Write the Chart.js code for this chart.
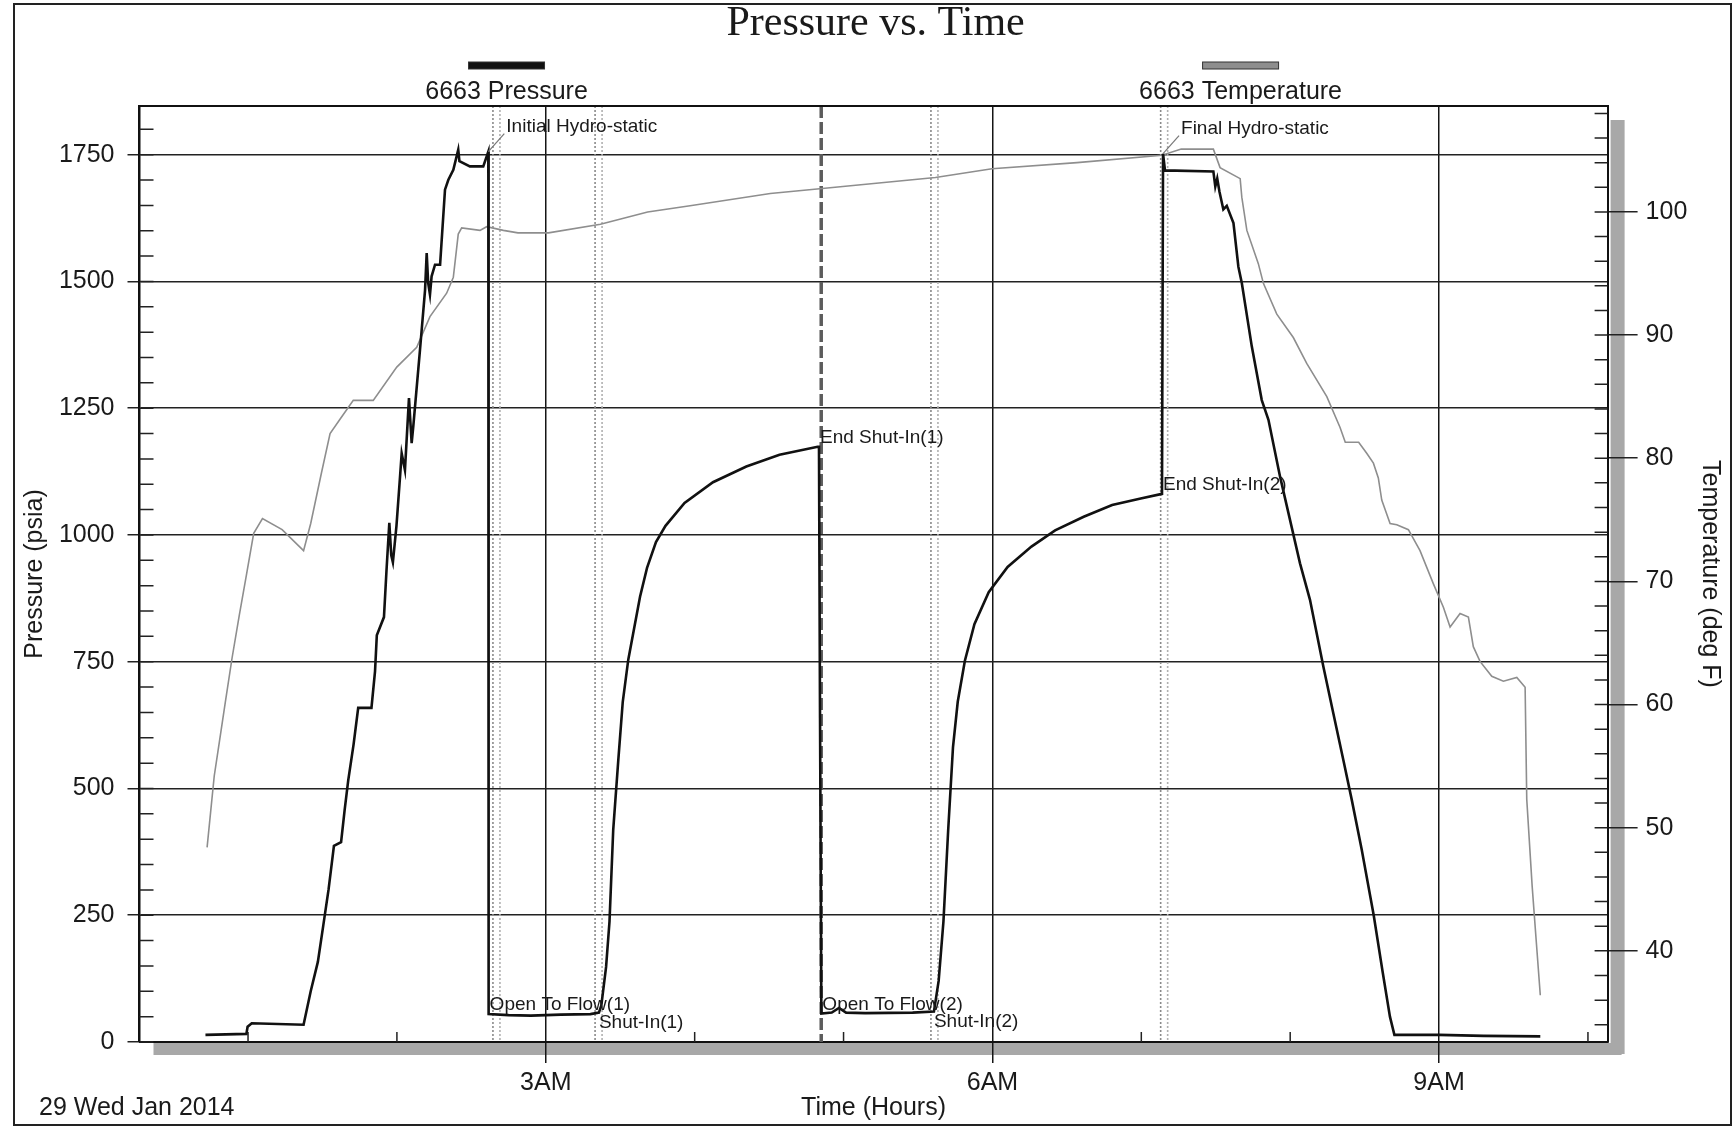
<!DOCTYPE html>
<html>
<head>
<meta charset="utf-8">
<title>Pressure vs. Time</title>
<script src="https://cdn.jsdelivr.net/npm/chart.js@4.4.1/dist/chart.umd.min.js"></script>
<style>
  html, body { margin: 0; padding: 0; background: #fff; }
  canvas { display: block; }
</style>
</head>
<body>
<canvas id="c" width="1736" height="1131"></canvas>
<script>
/* ---------- values ---------- */
// time in hours after midnight, pressure in psia
const pTime = [0.714, 0.989, 0.997, 1.025, 1.373, 1.421, 1.469, 1.505, 1.541, 1.577,
  1.625, 1.649, 1.673, 1.709, 1.740, 1.829, 1.853, 1.865, 1.913, 1.930,
  1.949, 1.962, 1.973, 1.997, 2.021, 2.032, 2.054, 2.081, 2.099, 2.110,
  2.155, 2.189, 2.200, 2.210, 2.222, 2.233, 2.256, 2.290, 2.323, 2.345,
  2.379, 2.412, 2.420, 2.490, 2.580, 2.614,
  2.616, 2.750, 2.900, 3.100, 3.300, 3.357,
  3.373, 3.405, 3.428, 3.453, 3.487, 3.517, 3.554, 3.633, 3.680, 3.740,
  3.804, 3.932, 4.123, 4.347, 4.570, 4.826, 4.835,
  4.842, 4.851, 4.921, 4.969, 5.017, 5.145, 5.464, 5.607,
  5.639, 5.671, 5.703, 5.735, 5.767, 5.815, 5.879, 5.975, 6.102, 6.262,
  6.421, 6.613, 6.804, 6.996, 7.139,
  7.146, 7.159, 7.484, 7.497, 7.510, 7.525, 7.551, 7.574, 7.619, 7.652,
  7.675, 7.742, 7.809, 7.854, 7.932, 8.066, 8.133, 8.223, 8.290, 8.357,
  8.414, 8.480, 8.561, 8.620, 8.670, 8.700, 9.000, 9.300, 9.680];
const pPsi = [14, 16, 30, 37, 34, 100, 158, 229, 301, 387,
  394, 458, 516, 587, 659, 659, 731, 802, 838, 930,
  1024, 960, 946, 1018, 1115, 1161, 1128, 1270, 1181, 1214,
  1365, 1483, 1556, 1497, 1474, 1510, 1533, 1533, 1681, 1700,
  1720, 1760, 1737, 1727, 1727, 1756,
  55, 53, 52, 54, 55, 58,
  72, 148, 238, 419, 556, 671, 754, 878, 935, 986,
  1018, 1063, 1104, 1135, 1158, 1174, 1174,
  640, 56, 58, 67, 58, 57, 58, 60,
  121, 238, 419, 581, 671, 752, 824, 887, 937, 977,
  1009, 1036, 1059, 1072, 1081,
  1752, 1719, 1717, 1687, 1703, 1677, 1642, 1649, 1615, 1529,
  1497, 1372, 1266, 1227, 1115, 944, 872, 740, 648, 556,
  477, 380, 250, 140, 50, 14, 14, 12, 11];

// temperature in deg F
const tTime = [0.725, 0.749, 0.773, 0.809, 0.845, 0.893, 0.942, 0.989, 1.038, 1.097,
  1.229, 1.373, 1.421, 1.493, 1.551, 1.620, 1.707, 1.841, 1.999, 2.133,
  2.222, 2.334, 2.379, 2.412, 2.435, 2.558, 2.603, 2.715, 2.813, 3.018,
  3.367, 3.684, 3.969, 4.508, 4.857, 5.617, 5.997, 6.568, 7.139, 7.268,
  7.484, 7.529, 7.664, 7.675, 7.709, 7.786, 7.820, 7.910, 8.021, 8.111,
  8.246, 8.335, 8.370, 8.460, 8.514, 8.559, 8.592, 8.615, 8.671, 8.716,
  8.794, 8.872, 8.962, 9.029, 9.074, 9.141, 9.197, 9.230, 9.275, 9.354,
  9.432, 9.522, 9.578, 9.589, 9.625, 9.652, 9.680];
const tDegF = [48.4, 51.3, 54.2, 57.1, 60.0, 63.8, 67.3, 70.5, 73.9, 75.1,
  74.2, 72.5, 74.7, 78.8, 82.0, 83.2, 84.7, 84.7, 87.4, 89.0,
  91.5, 93.4, 94.7, 98.2, 98.7, 98.5, 98.8, 98.5, 98.3, 98.3,
  99.0, 100.0, 100.5, 101.5, 101.9, 102.8, 103.5, 104.0, 104.6, 105.1,
  105.1, 103.6, 102.7, 101.2, 98.5, 95.8, 94.2, 91.7, 89.8, 87.7,
  85.0, 82.5, 81.3, 81.3, 80.4, 79.6, 78.4, 76.6, 74.7, 74.6,
  74.2, 72.5, 69.8, 67.9, 66.3, 67.4, 67.1, 64.7, 63.5, 62.3,
  61.9, 62.2, 61.4, 52.3, 45.3, 40.9, 36.4];

const hourTicks  = [1, 2, 3, 4, 5, 6, 7, 8, 9, 10];
const hourLabels = ['', '', '3AM', '', '', '6AM', '', '', '9AM', ''];
const psiTicks   = [0, 250, 500, 750, 1000, 1250, 1500, 1750];
const psiMinor   = 50;
const degTicks   = [40, 50, 60, 70, 80, 90, 100];
const degMinor   = 2;

// test events
const eventTimes = [2.645, 3.331, 4.850, 5.587, 7.130];
const markNames  = ['Initial Hydro-static', 'Open To Flow(1)', 'Shut-In(1)', 'End Shut-In(1)',
                    'Open To Flow(2)', 'Shut-In(2)', 'End Shut-In(2)', 'Final Hydro-static'];
const markTime   = [2.614, 2.616, 3.357, 4.835, 4.851, 5.607, 7.139, 7.146];
const markPsi    = [1756, 55, 58, 1174, 56, 60, 1081, 1752];

/* ---------- drawing ---------- */
const SANS = '"Liberation Sans", Arial, sans-serif';
const INK = '#1a1a1a';
Chart.defaults.font.family = SANS;
Chart.defaults.color = INK;

const hourLabel = v => { const i = hourTicks.indexOf(v); return i < 0 ? '' : hourLabels[i]; };
const majorHour = c => hourLabel(c.tick.value) ? '#151515' : 'rgba(0,0,0,0)';

const placement = {
  'Initial Hydro-static': 'lead', 'Final Hydro-static': 'lead',
  'End Shut-In(1)': 'above', 'End Shut-In(2)': 'above',
  'Open To Flow(1)': 'above', 'Open To Flow(2)': 'above',
  'Shut-In(1)': 'below', 'Shut-In(2)': 'below'
};

function vline(ctx, px, a) {
  ctx.beginPath(); ctx.moveTo(px, a.top); ctx.lineTo(px, a.bottom); ctx.stroke();
}

const decor = {
  id: 'decor',
  beforeDraw(chart) {
    const {ctx, chartArea: a} = chart;
    ctx.save();
    ctx.fillStyle = '#fff';
    ctx.fillRect(0, 0, chart.width, chart.height);
    // drop shadow of the plot box
    ctx.fillStyle = '#a8a8a8';
    ctx.fillRect(a.left + 14, a.bottom + 1, a.width, 12);
    ctx.fillRect(a.right + 3, a.top + 14, 14, a.height - 2);
    ctx.restore();
  },
  beforeDatasetsDraw(chart) {
    const {ctx, chartArea: a, scales: {x, y, y1}} = chart;
    ctx.save();
    // event lines: paired dotted lines, the mid one a heavy dash
    eventTimes.forEach((t, i) => {
      const px = x.getPixelForValue(t);
      if (i === 2) {
        ctx.strokeStyle = '#5c5c5c'; ctx.lineWidth = 3.5; ctx.setLineDash([12, 4]);
        vline(ctx, px, a);
      } else {
        ctx.lineWidth = 1.6; ctx.setLineDash([2, 2]);
        ctx.strokeStyle = '#8a8a8a'; vline(ctx, px, a);
        ctx.strokeStyle = '#b0b0b0'; vline(ctx, px + 7, a);
      }
    });
    ctx.setLineDash([]);
    // inside minor ticks
    ctx.strokeStyle = '#222';
    ctx.lineWidth = 1.5;
    ctx.beginPath();
    for (let v = 0; v <= y.max; v += psiMinor) {
      const py = y.getPixelForValue(v);
      ctx.moveTo(a.left, py); ctx.lineTo(a.left + 14, py);
    }
    for (let v = Math.ceil(y1.min / degMinor) * degMinor; v <= y1.max; v += degMinor) {
      const py = y1.getPixelForValue(v);
      ctx.moveTo(a.right - 13, py); ctx.lineTo(a.right, py);
    }
    hourTicks.forEach(h => {
      if (hourLabel(h)) return;
      const px = x.getPixelForValue(h);
      ctx.moveTo(px, a.bottom); ctx.lineTo(px, a.bottom - 10);
    });
    ctx.stroke();
    ctx.restore();
  },
  afterDraw(chart) {
    const {ctx, chartArea: a, scales: {x, y}} = chart;
    ctx.save();
    // top edge of the plot
    ctx.strokeStyle = '#111'; ctx.lineWidth = 2;
    ctx.beginPath(); ctx.moveTo(a.left, a.top); ctx.lineTo(a.right, a.top); ctx.stroke();

    // event labels
    ctx.font = '19px ' + SANS;
    ctx.fillStyle = INK;
    markNames.forEach((name, i) => {
      const px = x.getPixelForValue(markTime[i]);
      const py = y.getPixelForValue(markPsi[i]);
      const how = placement[name];
      ctx.textAlign = 'left';
      if (how === 'lead') {
        ctx.strokeStyle = '#777'; ctx.lineWidth = 1.2;
        ctx.beginPath(); ctx.moveTo(px, py); ctx.lineTo(px + 16, py - 18); ctx.stroke();
        ctx.textBaseline = 'middle';
        ctx.fillText(name, px + 18, py - 25);
      } else if (how === 'above') {
        ctx.textBaseline = 'alphabetic';
        ctx.fillText(name, px + 1, py - 4);
      } else {
        ctx.textBaseline = 'top';
        ctx.fillText(name, px, py + 1);
      }
    });

    // title
    const cx = (a.left + a.right) / 2;
    ctx.textAlign = 'center'; ctx.textBaseline = 'middle';
    ctx.font = '42px "Liberation Serif", "Times New Roman", serif';
    ctx.fillText('Pressure vs. Time', cx + 2, 24);

    // legend: swatch bar above each label
    ctx.font = '25px ' + SANS;
    chart.data.datasets.forEach((ds, i) => {
      const lx = a.left + a.width * (0.25 + 0.5 * i);
      ctx.fillStyle = ds.borderColor;
      ctx.fillRect(lx - 38, 62, 76, 7);
      ctx.strokeStyle = '#333'; ctx.lineWidth = 1;
      ctx.strokeRect(lx - 38, 62, 76, 7);
      ctx.fillStyle = INK;
      ctx.fillText(ds.label, lx, 92);
    });

    // date stamp
    ctx.textAlign = 'left';
    ctx.fillText('29 Wed Jan 2014', 39, 1108);

    // outer frame
    ctx.strokeStyle = '#222'; ctx.lineWidth = 2;
    ctx.strokeRect(14, 4, chart.width - 19, chart.height - 10);
    ctx.restore();
  }
};

new Chart(document.getElementById('c'), {
  type: 'line',
  data: {
    datasets: [
      { label: '6663 Pressure', yAxisID: 'y', data: pTime.map((t, i) => ({x: t, y: pPsi[i]})),
        borderColor: '#111', borderWidth: 2.6, pointRadius: 0, tension: 0 },
      { label: '6663 Temperature', yAxisID: 'y1', data: tTime.map((t, i) => ({x: t, y: tDegF[i]})),
        borderColor: '#8e8e8e', borderWidth: 1.6, pointRadius: 0, tension: 0 }
    ]
  },
  options: {
    responsive: false,
    devicePixelRatio: 1,
    animation: false,
    layout: { padding: { top: 106, left: 0, right: 0, bottom: 0 } },
    plugins: { legend: { display: false }, title: { display: false }, tooltip: { enabled: false } },
    scales: {
      x: {
        type: 'linear', min: 0.271, max: 10.132,
        afterBuildTicks: s => { s.ticks = hourTicks.map(v => ({value: v})); },
        afterFit: s => { s.height = 89; },
        grid: { color: majorHour, tickColor: majorHour, lineWidth: 1.5, tickLength: 21 },
        border: { display: true, color: '#111', width: 2 },
        ticks: { autoSkip: false, maxRotation: 0, padding: 5, font: { size: 25 }, callback: v => hourLabel(v) },
        title: { display: true, text: 'Time (Hours)', font: { size: 25 }, padding: { bottom: 8 } }
      },
      y: {
        position: 'left', min: 0, max: 1846,
        afterBuildTicks: s => { s.ticks = psiTicks.map(v => ({value: v})); },
        afterFit: s => { s.width = 139.5; },
        grid: { color: '#222', lineWidth: 1.5, tickLength: 12 },
        border: { display: true, color: '#111', width: 2.5 },
        ticks: { padding: 13, font: { size: 25 }, callback: v => String(v) },
        title: { display: true, text: 'Pressure (psia)', font: { size: 25 }, padding: { top: 20 } }
      },
      y1: {
        position: 'right', min: 32.6, max: 108.6,
        afterBuildTicks: s => { s.ticks = degTicks.map(v => ({value: v})); },
        afterFit: s => { s.width = 128.4; },
        grid: { drawOnChartArea: false, color: '#222', lineWidth: 1.5, tickLength: 30 },
        border: { display: true, color: '#111', width: 2 },
        ticks: { padding: 8, font: { size: 25 }, callback: v => String(v) },
        title: { display: true, text: 'Temperature (deg F)', font: { size: 25 }, padding: { top: 11 } }
      }
    }
  },
  plugins: [decor]
});
</script>
</body>
</html>
